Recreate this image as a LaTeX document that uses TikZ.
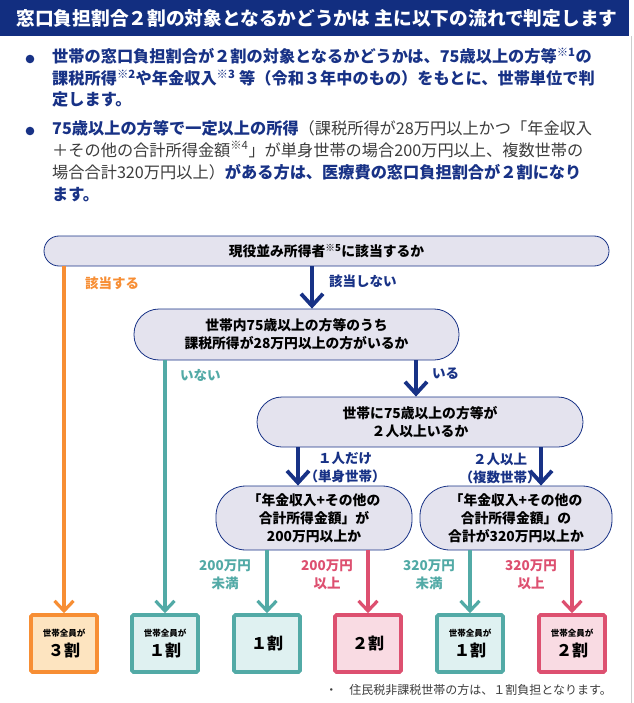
\documentclass[tikz,border=0pt]{standalone}
\usepackage{fontspec}
\setmainfont{Noto Sans CJK JP}
\usepackage{xcolor}
\usetikzlibrary{arrows.meta,positioning,calc}
\definecolor{hdnavy}{RGB}{18,46,128}
\definecolor{flownavy}{RGB}{24,50,134}
\definecolor{floworange}{RGB}{247,142,52}
\definecolor{flowteal}{RGB}{82,170,166}
\definecolor{flowpink}{RGB}{221,80,112}
\definecolor{pillfill}{RGB}{228,227,238}
\definecolor{fillorange}{RGB}{253,228,192}
\definecolor{fillteal}{RGB}{223,241,241}
\definecolor{fillpink}{RGB}{249,219,227}
\definecolor{bodygray}{RGB}{60,60,60}
\definecolor{edgegray}{RGB}{205,205,205}
\newcommand{\fsz}[2]{\fontsize{#1}{#2}\selectfont}
\newcommand{\zenin}[1]{{\fsz{8.5}{10}世帯全員が}\\[2pt]#1}

\begin{document}
\begin{tikzpicture}[x=1pt,y=-1pt,
  pill/.style={draw=flownavy,line width=0.8pt,fill=pillfill,align=center,
    font=\fsz{13.8}{18}\bfseries,inner sep=0pt},
  result/.style={draw=flow#1,fill=fill#1,line width=3.6pt,rounded corners=1.5pt,
    minimum width=66pt,minimum height=57pt,align=center,font=\fsz{16}{18}\bfseries,inner sep=0pt},
  navyarrow/.style={flownavy,line width=3.8pt,-{Straight Barb[length=12pt,width=22pt]}},
  flowline/.style={flow#1,line width=3.2pt,-{Straight Barb[length=10pt,width=19pt]}},
  lbl/.style={text=flow#1,font=\fsz{13.5}{17}\bfseries,align=center,inner sep=0pt}]
\useasboundingbox (0,0) rectangle (633,703);
% title bar
\fill[hdnavy] (0,0) rectangle (629,36);
\draw[edgegray,line width=1.5pt] (631.5,36) -- (631.5,703);
\node[text=white,font=\fsz{18.7}{20}\bfseries] (title) at (317,18)
  {窓口負担割合２割の対象となるかどうかは 主に以下の流れで判定します};
% bullets
\fill[flownavy] (30,59) circle (4.3);
\fill[flownavy] (30,131) circle (4.3);
\node[anchor=north west,align=left,inner sep=0pt,text=flownavy,font=\fsz{16.2}{21.5}\bfseries] (note1) at (52,48)
  {世帯の窓口負担割合が２割の対象となるかどうかは、75歳以上の方等\textsuperscript{※1}の\\
   課税所得\textsuperscript{※2}や年金収入\textsuperscript{※3} 等（令和３年中のもの）をもとに、世帯単位で判\\
   定します。};
\node[anchor=north west,align=left,inner sep=0pt,text=bodygray,font=\fsz{16.2}{22}] (note2) at (52,120)
  {{\bfseries\color{flownavy}75歳以上の方等で一定以上の所得}（課税所得が28万円以上かつ「年金収入\\
   ＋その他の合計所得金額\textsuperscript{※4}」が単身世帯の場合200万円以上、複数世帯の\\
   場合合計320万円以上）{\bfseries\color{flownavy}がある方は、医療費の窓口負担割合が２割になり}\\
   {\bfseries\color{flownavy}ます。}};
% questions
\node[pill,minimum width=565pt,minimum height=30pt,rounded corners=15pt] (q1) at (326.5,251)
  {現役並み所得者\textsuperscript{※5}に該当するか};
\node[pill,minimum width=325pt,minimum height=51pt,rounded corners=25pt] (q2) at (296.5,334.5)
  {世帯内75歳以上の方等のうち\\課税所得が28万円以上の方がいるか};
\node[pill,minimum width=326pt,minimum height=50pt,rounded corners=25pt] (q3) at (420,422)
  {世帯に75歳以上の方等が\\２人以上いるか};
\node[pill,minimum width=196pt,minimum height=64pt,rounded corners=30pt] (q4) at (314,518)
  {「年金収入+その他の\\合計所得金額」が\\200万円以上か};
\node[pill,minimum width=192pt,minimum height=64pt,rounded corners=30pt] (q5) at (516,518)
  {「年金収入+その他の\\合計所得金額」の\\合計が320万円以上か};
% results
\foreach \n/\x/\c/\t in {resA/64/orange/{\zenin{３割}},resB/165/teal/{\zenin{１割}},
                         resC/267/teal/{１割},resD/368/pink/{２割},
                         resE/470/teal/{\zenin{１割}},resF/572/pink/{\zenin{２割}}}{
  \node[result=\c] (\n) at (\x,643.5) {\t};}
% connectors
\coordinate (q2in) at ([xshift=15.5pt]q2.north);
\coordinate (q3in) at ([xshift=-4pt]q3.north);
\coordinate (q4in) at ([xshift=-16pt]q4.north);
\coordinate (q5in) at ([xshift=25pt]q5.north);
\draw[navyarrow] (q1.south -| q2in) -- (q2in);
\draw[navyarrow] (q2.south -| q3in) -- (q3in);
\draw[navyarrow] (q3.south -| q4in) -- (q4in);
\draw[navyarrow] (q3.south -| q5in) -- (q5in);
\draw[flowline=orange] (q1.south -| resA.north) -- (resA.north);
\draw[flowline=teal] (q2.south -| resB.north) -- (resB.north);
\draw[flowline=teal] (q4.south -| resC.north) -- (resC.north);
\draw[flowline=pink] (q4.south -| resD.north) -- (resD.north);
\draw[flowline=teal] (q5.south -| resE.north) -- (resE.north);
\draw[flowline=pink] (q5.south -| resF.north) -- (resF.north);
% branch labels
\node[lbl=orange] (yes1) at (112,283) {該当する};
\node[lbl=navy,anchor=west] (no1) at (329,281) {該当しない};
\node[lbl=teal,anchor=west] (no2) at (180,375) {いない};
\node[lbl=navy,anchor=west] (yes2) at (432,374) {いる};
\node[lbl=navy,font=\fsz{13.5}{18}\bfseries] (single) at (345,468) {１人だけ\\（単身世帯）};
\node[lbl=navy,font=\fsz{13.5}{18}\bfseries] (multi) at (500,468) {２人以上\\（複数世帯）};
\node[lbl=teal,font=\fsz{13.5}{18}\bfseries] (lo200) at (225,575) {200万円\\未満};
\node[lbl=pink,font=\fsz{13.5}{18}\bfseries] (hi200) at (327,575) {200万円\\以上};
\node[lbl=teal,font=\fsz{13.5}{18}\bfseries] (lo320) at (429,575) {320万円\\未満};
\node[lbl=pink,font=\fsz{13.5}{18}\bfseries] (hi320) at (531,575) {320万円\\以上};
% footnote
\node[anchor=east,text=bodygray,font=\fsz{12}{14},inner sep=0pt] (foot) at (612,690)
  {・　住民税非課税世帯の方は、１割負担となります。};
\end{tikzpicture}
\end{document}
